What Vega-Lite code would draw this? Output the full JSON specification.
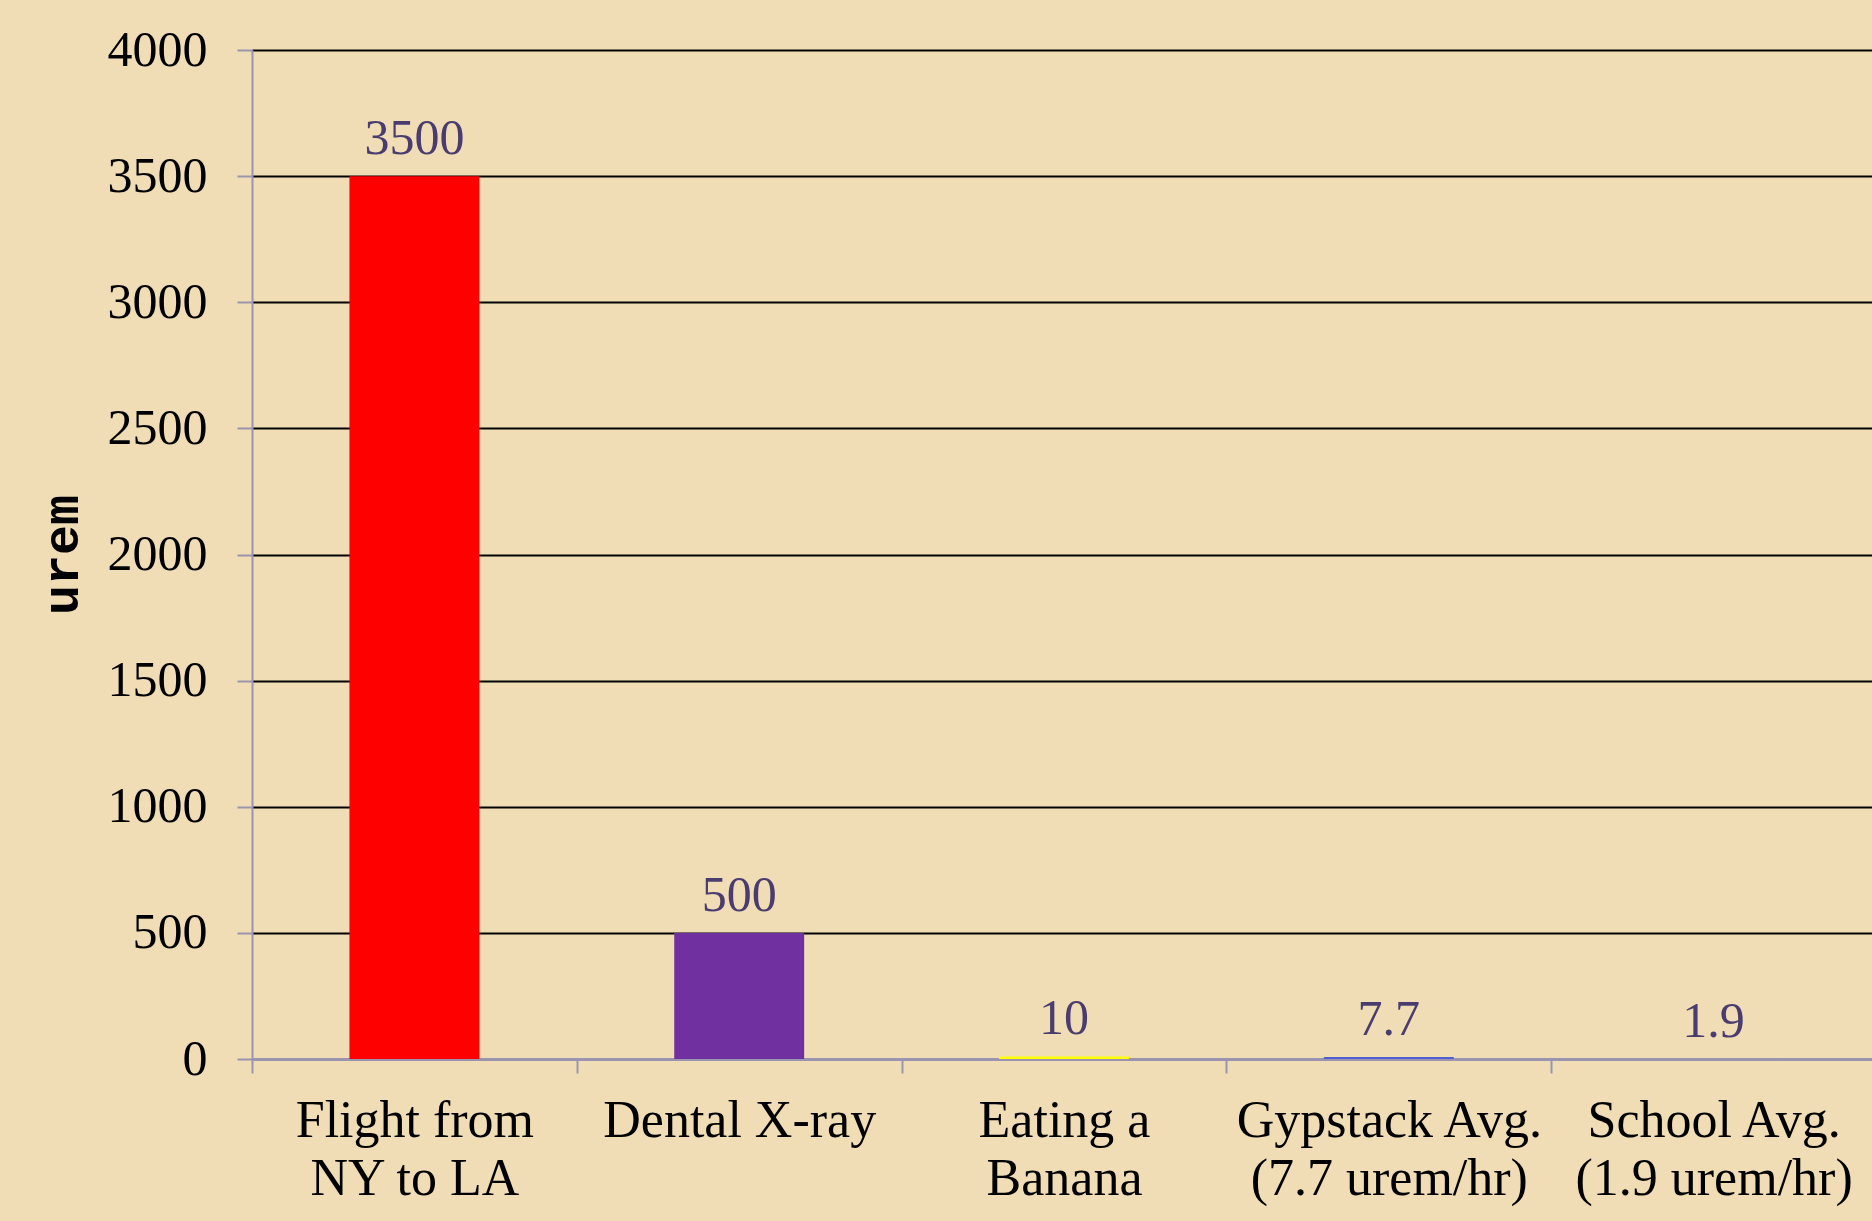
{
  "$schema": "https://vega.github.io/schema/vega-lite/v6.json",
  "width": 1624,
  "height": 1009,
  "autosize": {"type": "none"},
  "padding": {"left": 252, "top": 50, "right": 0, "bottom": 162},
  "background": "#F0DDB6",
  "config": {"view": {"stroke": null}},
  "data": {
    "values": [
      {"cat": "Flight from|NY to LA", "v": 3500},
      {"cat": "Dental X-ray", "v": 500},
      {"cat": "Eating a|Banana", "v": 10},
      {"cat": "Gypstack Avg.|(7.7 urem/hr)", "v": 7.7},
      {"cat": "School Avg.|(1.9 urem/hr)", "v": 1.9}
    ]
  },
  "encoding": {
    "x": {
      "field": "cat",
      "type": "nominal",
      "sort": null,
      "scale": {"paddingInner": 0, "paddingOuter": 0},
      "axis": {
        "title": null,
        "labelAngle": 0,
        "labelExpr": "split(datum.label, '|')",
        "labelFont": "Liberation Serif",
        "labelFontSize": 52,
        "labelColor": "#000000",
        "labelLineHeight": 58,
        "labelPadding": 22,
        "labelBaseline": "top",
        "tickBand": "extent",
        "tickSize": 14,
        "tickWidth": 2,
        "tickColor": "#9A94B0",
        "domainColor": "#9A94B0",
        "domainWidth": 3,
        "labelLimit": 400
      }
    },
    "y": {
      "field": "v",
      "type": "quantitative",
      "scale": {"domain": [0, 4000]},
      "axis": {
        "title": "urem",
        "titleFont": "Liberation Mono",
        "titleFontWeight": "bold",
        "titleFontSize": 50,
        "titleColor": "#000000",
        "titleX": -175,
        "titleBaseline": "alphabetic",
        "values": [0, 500, 1000, 1500, 2000, 2500, 3000, 3500, 4000],
        "format": "d",
        "labelFont": "Liberation Serif",
        "labelFontSize": 50,
        "labelColor": "#000000",
        "labelPadding": 30,
        "tickSize": 15,
        "tickWidth": 2,
        "tickColor": "#9A94B0",
        "domainColor": "#9A94B0",
        "domainWidth": 2,
        "grid": true,
        "gridColor": "#000000",
        "gridWidth": 2
      }
    }
  },
  "layer": [
    {
      "mark": {"type": "bar", "width": {"band": 0.4}},
      "encoding": {
        "color": {
          "field": "cat",
          "type": "nominal",
          "sort": null,
          "legend": null,
          "scale": {"range": ["#FF0000", "#7030A0", "#FFFF00", "#4F5FD0", "#9A94B0"]}
        }
      }
    },
    {
      "mark": {"type": "text", "dy": -22, "baseline": "alphabetic", "font": "Liberation Serif", "fontSize": 50, "color": "#4A3C6E"},
      "encoding": {
        "text": {"field": "v", "type": "quantitative", "format": "~g"}
      }
    }
  ]
}
